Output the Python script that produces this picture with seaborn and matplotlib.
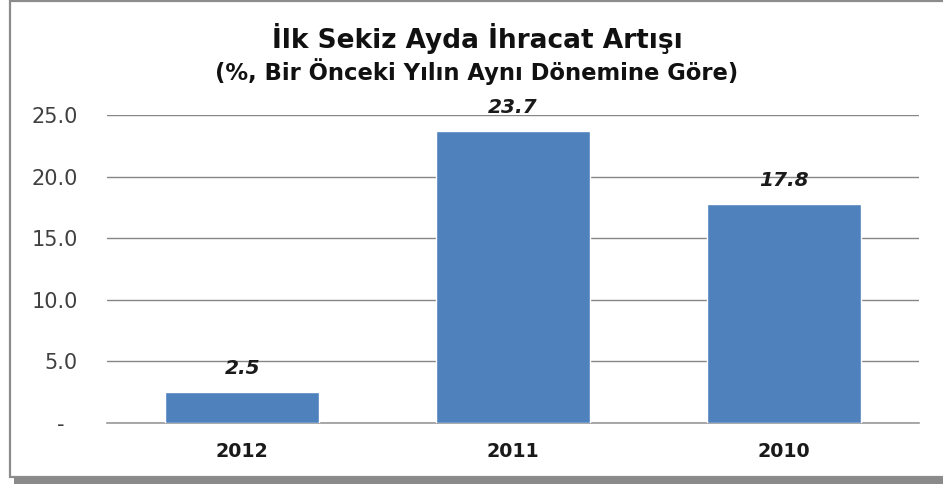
import matplotlib
matplotlib.use("Agg")
import matplotlib.pyplot as plt
import seaborn as sns
import pandas as pd
from matplotlib.patches import Rectangle

years = ["2012", "2011", "2010"]
values = [2.5, 23.7, 17.8]
yticks = [0, 5, 10, 15, 20, 25]
ytick_labels = ["-  ", "5.0", "10.0", "15.0", "20.0", "25.0"]
title = "İlk Sekiz Ayda İhracat Artışı"
subtitle = "(%, Bir Önceki Yılın Aynı Dönemine Göre)"

sns.set_theme(style="white")
plt.rcParams['font.family'] = ['DejaVu Sans']

W, H = 943, 486
fig = plt.figure(figsize=(W / 100, H / 100), dpi=100)

# shadow and frame
shadow = Rectangle((14 / W, 1 - 484 / H), (W - 14) / W, (484 - 8) / H,
                   transform=fig.transFigure, facecolor="#8a8a8a", edgecolor="none", zorder=0)
frame = Rectangle((10 / W, 1 - 477 / H), (W + 5) / W, (477 - 1) / H,
                  transform=fig.transFigure, facecolor="white", edgecolor="#8c8c8c",
                  linewidth=1.6, zorder=1)
fig.patches.extend([shadow, frame])

ax = fig.add_axes([107 / W, 1 - 423 / H, (919 - 107) / W, (423 - 115) / H])
ax.set_zorder(2)
ax.patch.set_alpha(0)

df = pd.DataFrame({"year": years, "value": values})
sns.barplot(data=df, x="year", y="value", color="#4f81bd", saturation=1,
            width=0.57, ax=ax, zorder=3)

ax.set_ylim(0, 25)
ax.set_yticks(yticks)
ax.set_yticklabels(ytick_labels, fontsize=15, color="#404040")
ax.tick_params(axis="y", length=0, pad=21)
ax.tick_params(axis="x", length=0, pad=14)
for lab in ax.get_xticklabels():
    lab.set_fontweight("bold")
    lab.set_fontsize(13.7)
    lab.set_color("#1a1a1a")
ax.set_xlabel("")
ax.set_ylabel("")
ax.grid(axis="y", color="#868686", linewidth=1.0, zorder=0)
ax.set_axisbelow(True)
for s in ["top", "right", "left"]:
    ax.spines[s].set_visible(False)
ax.spines["bottom"].set_color("#9a9a9a")
ax.spines["bottom"].set_linewidth(1.2)

for i, v in enumerate(values):
    ax.annotate(f"{v:.1f}", (i, v), xytext=(0, 10), textcoords="offset points",
                ha="center", va="bottom", fontsize=14.5, fontweight="bold",
                fontstyle="italic", color="#1a1a1a")

fig.text(477 / W, 1 - 38 / H, title, ha="center", va="center",
         fontsize=19, fontweight="bold", color="#111111", zorder=5)
fig.text(477 / W, 1 - 72 / H, subtitle, ha="center", va="center",
         fontsize=16.3, fontweight="bold", color="#111111", zorder=5)

fig.savefig("out.png", dpi=100)
